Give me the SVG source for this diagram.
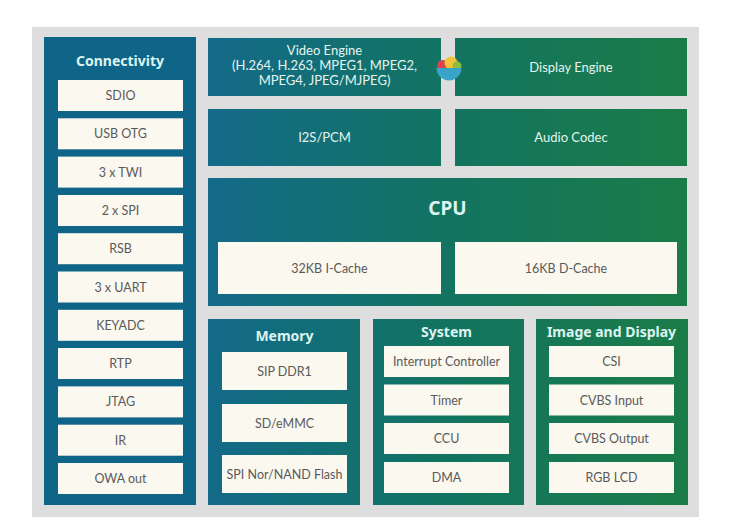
<svg xmlns="http://www.w3.org/2000/svg" width="741" height="525" viewBox="0 0 741 525">
<defs>
<linearGradient id="g" gradientUnits="userSpaceOnUse" x1="208" y1="0" x2="688" y2="0">
<stop offset="0" stop-color="#136a89"/>
<stop offset="0.5" stop-color="#127460"/>
<stop offset="1" stop-color="#1b7c48"/>
</linearGradient>
<style>
.panel{fill:url(#g)}
.conn{fill:#0f6587}
.item{fill:#fbf8f0}
.it{font-family:Lato,"Noto Sans",sans-serif;font-size:12.5px;fill:#5a5a5a;text-anchor:middle}
.ttl{font-family:"Noto Sans",Lato,sans-serif;font-weight:bold;font-size:14px;fill:#dcf3f1;text-anchor:middle}
.wt{font-family:Lato,"Noto Sans",sans-serif;font-size:13px;fill:#e6f3ef;text-anchor:middle}
</style>
</defs>
<rect width="741" height="525" fill="#ffffff"/>
<rect x="32" y="27" width="667" height="490" fill="#dedede"/>

<g id="connectivity">
<rect class="conn" x="44" y="37" width="152" height="468"/>
<text class="ttl" x="120" y="66">Connectivity</text>
<rect class="item" x="58" y="80" width="125" height="31"/><text class="it" x="120.5" y="100">SDIO</text>
<rect class="item" x="58" y="118.3" width="125" height="31"/><text class="it" x="120.5" y="138.3">USB OTG</text>
<rect class="item" x="58" y="156.6" width="125" height="31"/><text class="it" x="120.5" y="176.6">3 x TWI</text>
<rect class="item" x="58" y="195" width="125" height="31"/><text class="it" x="120.5" y="215">2 x SPI</text>
<rect class="item" x="58" y="233.2" width="125" height="31"/><text class="it" x="120.5" y="253.2">RSB</text>
<rect class="item" x="58" y="271.5" width="125" height="31"/><text class="it" x="120.5" y="291.5">3 x UART</text>
<rect class="item" x="58" y="309.8" width="125" height="31"/><text class="it" x="120.5" y="329.8">KEYADC</text>
<rect class="item" x="58" y="348" width="125" height="31"/><text class="it" x="120.5" y="368">RTP</text>
<rect class="item" x="58" y="386.4" width="125" height="31"/><text class="it" x="120.5" y="406.4">JTAG</text>
<rect class="item" x="58" y="424.7" width="125" height="31"/><text class="it" x="120.5" y="444.7">IR</text>
<rect class="item" x="58" y="463" width="125" height="31"/><text class="it" x="120.5" y="483">OWA out</text>
</g>

<g id="video-engine">
<rect class="panel" x="208" y="38" width="233" height="58"/>
<text class="wt" x="324.5" y="55">Video Engine</text>
<text class="wt" x="324.5" y="70">(H.264, H.263, MPEG1, MPEG2,</text>
<text class="wt" x="324.5" y="85">MPEG4, JPEG/MJPEG)</text>
</g>

<g id="display-engine">
<rect class="panel" x="455" y="38" width="232" height="58"/>
<text class="wt" x="571" y="72">Display Engine</text>
</g>

<g id="icon">
<circle cx="443" cy="66" r="6" fill="#d9434b"/>
<circle cx="451" cy="63" r="6.5" fill="#f2c33a"/>
<circle cx="457" cy="66" r="4.5" fill="#8bbd3c"/>
<path d="M436.5 68 A12.5 12.5 0 0 0 461.5 68 Z" fill="#3aa3c8"/>
</g>

<g id="i2s-pcm">
<rect class="panel" x="208" y="109" width="233" height="57"/>
<text class="wt" x="324.5" y="142">I2S/PCM</text>
</g>

<g id="audio-codec">
<rect class="panel" x="455" y="109" width="232" height="57"/>
<text class="wt" x="571" y="142">Audio Codec</text>
</g>

<g id="cpu">
<rect class="panel" x="208" y="178" width="479" height="128"/>
<text class="ttl" x="447.5" y="215" style="font-size:19px">CPU</text>
<rect class="item" x="218" y="242" width="223" height="52"/><text class="it" x="329.5" y="272.5">32KB I-Cache</text>
<rect class="item" x="455" y="242" width="222" height="52"/><text class="it" x="566" y="272.5">16KB D-Cache</text>
</g>

<g id="memory">
<rect class="panel" x="208" y="319" width="152" height="186"/>
<text class="ttl" x="284.5" y="341">Memory</text>
<rect class="item" x="222" y="352" width="125" height="38"/><text class="it" x="284.5" y="375.5">SIP DDR1</text>
<rect class="item" x="222" y="404" width="125" height="38"/><text class="it" x="284.5" y="427.5">SD/eMMC</text>
<rect class="item" x="222" y="455" width="125" height="38"/><text class="it" x="284.5" y="478.5">SPI Nor/NAND Flash</text>
</g>

<g id="system">
<rect class="panel" x="373" y="319" width="151" height="186"/>
<text class="ttl" x="446.5" y="337">System</text>
<rect class="item" x="384" y="346" width="125" height="31"/><text class="it" x="446.5" y="366">Interrupt Controller</text>
<rect class="item" x="384" y="384.5" width="125" height="31"/><text class="it" x="446.5" y="404.5">Timer</text>
<rect class="item" x="384" y="423" width="125" height="31"/><text class="it" x="446.5" y="443">CCU</text>
<rect class="item" x="384" y="462" width="125" height="31"/><text class="it" x="446.5" y="482">DMA</text>
</g>

<g id="image-display">
<rect class="panel" x="536" y="319" width="152" height="186"/>
<text class="ttl" x="611.5" y="337">Image and Display</text>
<rect class="item" x="549" y="346" width="125" height="31"/><text class="it" x="611.5" y="366">CSI</text>
<rect class="item" x="549" y="384.5" width="125" height="31"/><text class="it" x="611.5" y="404.5">CVBS Input</text>
<rect class="item" x="549" y="423" width="125" height="31"/><text class="it" x="611.5" y="443">CVBS Output</text>
<rect class="item" x="549" y="462" width="125" height="31"/><text class="it" x="611.5" y="482">RGB LCD</text>
</g>

<g id="connectors"></g>
</svg>
